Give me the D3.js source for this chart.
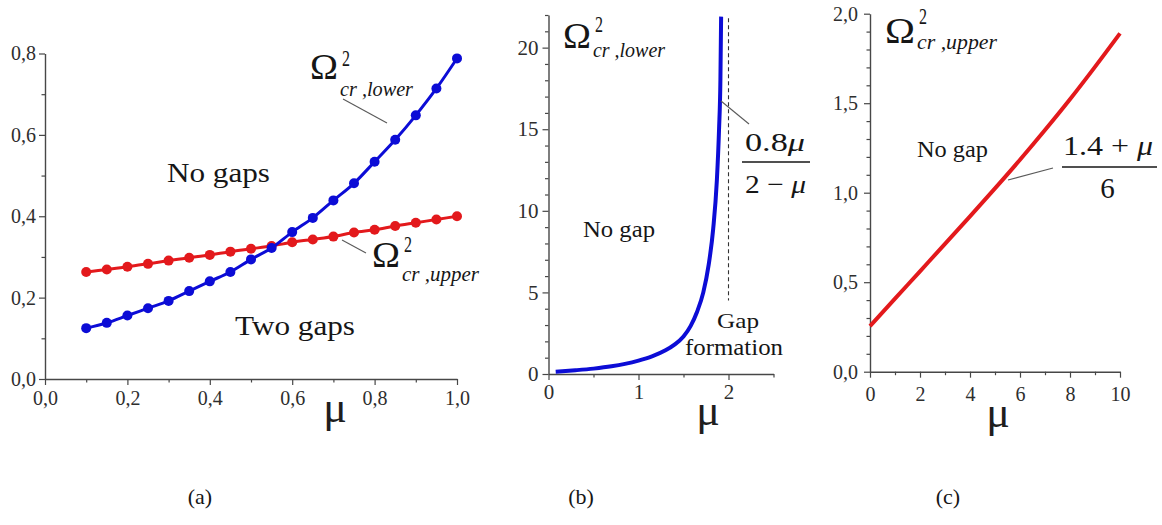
<!DOCTYPE html>
<html>
<head>
<meta charset="utf-8">
<script src="https://cdn.jsdelivr.net/npm/d3@7"></script>
<style>
  body { margin: 0; background: #fff; }
  svg { display: block; }
  text { font-family: "Liberation Serif", "Times New Roman", serif; }
</style>
</head>
<body>
<svg id="chart" width="1162" height="525"></svg>
<script>
// ---- (a) critical frequencies, sampled every 0.05 in mu ----
const muA = [0.10, 0.15, 0.20, 0.25, 0.30, 0.35, 0.40, 0.45, 0.50, 0.55,
             0.60, 0.65, 0.70, 0.75, 0.80, 0.85, 0.90, 0.95, 1.00];
const lowerA = [0.125, 0.138, 0.156, 0.174, 0.192, 0.216, 0.240, 0.263, 0.294, 0.322,
                0.361, 0.396, 0.439, 0.481, 0.534, 0.588, 0.648, 0.714, 0.788];
const upperA = [0.263, 0.269, 0.276, 0.283, 0.291, 0.298, 0.305, 0.313, 0.320, 0.327,
                0.336, 0.343, 0.350, 0.360, 0.367, 0.376, 0.384, 0.392, 0.400];

// ---- (b) lower critical frequency up to the asymptote at mu = 2 ----
const muB = [0.08, 0.30, 0.50, 0.70, 0.85, 1.00, 1.15, 1.30, 1.40, 1.50,
             1.58, 1.65, 1.72, 1.78, 1.83, 1.87, 1.895, 1.91, 1.918];
const lowerB = [0.14, 0.23, 0.33, 0.47, 0.62, 0.82, 1.08, 1.45, 1.80, 2.30,
                2.95, 3.80, 5.00, 6.70, 8.90, 11.8, 15.0, 18.0, 21.9];
const asymptoteB = 2;

// ---- (c) upper critical frequency ----
const muC = [0, 1, 2, 3, 4, 5, 6, 7, 8, 9, 10];
const upperC = [0.255, 0.408, 0.561, 0.714, 0.868, 1.024, 1.184, 1.350, 1.522, 1.703, 1.890];

// ---- tick values ----
const xMajorA = [0, 0.2, 0.4, 0.6, 0.8, 1.0];
const xMinorA = [0.1, 0.3, 0.5, 0.7, 0.9];
const yMajorA = [0, 0.2, 0.4, 0.6, 0.8];
const yMinorA = [0.1, 0.3, 0.5, 0.7];
const xMajorB = [0, 1, 2];
const xMinorB = [0.5, 1.5, 2.5];
const yMajorB = [0, 5, 10, 15, 20];
const yMinorB = d3.range(1, 23).filter(v => v % 5 !== 0);
const xMajorC = [0, 2, 4, 6, 8, 10];
const xMinorC = [1, 3, 5, 7, 9];
const yMajorC = [0, 0.5, 1.0, 1.5, 2.0];
const yMinorC = d3.range(1, 20).filter(i => i % 5 !== 0).map(i => i / 10);

const panelCaptions = ["(a)", "(b)", "(c)"];

const BLUE = "#0c0cd6";
const RED = "#e3191c";
const AXIS = "#474747";
const INK = "#161616";

const svg = d3.select("#chart");
const comma1 = d => d3.format(".1f")(d).replace(".", ",");
const intFmt = d3.format("d");

function drawAxes(g, x, y, o) {
  const y0 = y.range()[0], x0 = x.range()[0];
  const style = sel => {
    sel.attr("color", AXIS)
       .attr("font-family", "'Liberation Serif', 'Times New Roman', serif")
       .attr("font-size", o.fontSize);
    sel.selectAll("path.domain").attr("stroke-width", 1.4);
    sel.selectAll(".tick line").attr("stroke-width", 1.2);
    sel.selectAll("text").attr("fill", "#2e2e2e");
  };
  g.append("g").attr("transform", `translate(0,${y0})`)
    .call(d3.axisBottom(x).tickValues(o.xMinor).tickSize(3.5).tickFormat(""))
    .call(s => s.select(".domain").remove()).call(style);
  g.append("g").attr("transform", `translate(${x0},0)`)
    .call(d3.axisLeft(y).tickValues(o.yMinor).tickSize(3.5).tickFormat(""))
    .call(s => s.select(".domain").remove()).call(style);
  g.append("g").attr("transform", `translate(0,${y0})`)
    .call(d3.axisBottom(x).tickValues(o.xMajor).tickSize(6).tickSizeOuter(0)
      .tickPadding(o.xPad).tickFormat(o.fmtX)).call(style);
  g.append("g").attr("transform", `translate(${x0},0)`)
    .call(d3.axisLeft(y).tickValues(o.yMajor).tickSize(6).tickSizeOuter(0)
      .tickPadding(o.yPad).tickFormat(o.fmtY)).call(style);
}

function note(g, o) {
  const t = g.append("text")
    .attr("x", o.x).attr("y", o.y)
    .attr("font-size", o.size)
    .attr("fill", INK);
  if (o.w) t.attr("textLength", o.w).attr("lengthAdjust", "spacingAndGlyphs");
  if (o.italic) t.attr("font-style", "italic");
  if (o.anchor) t.attr("text-anchor", o.anchor);
  t.text(o.text);
  return t;
}

// Omega^2 with an italic subscript
function omegaLabel(g, o) {
  note(g, { x: o.x, y: o.y, size: 36, w: o.ow, text: "Ω" });
  note(g, { x: o.x + o.ow + 4, y: o.y - o.supDy, size: 24, w: 8, text: "2" });
  note(g, { x: o.x + o.ow + 2, y: o.y + o.subDy, size: o.subSize, w: o.sw, italic: true, text: o.sub });
}

function leader(g, x1, y1, x2, y2) {
  g.append("line").attr("x1", x1).attr("y1", y1).attr("x2", x2).attr("y2", y2)
    .attr("stroke", "#5a5a5a").attr("stroke-width", 1.1);
}

function muLabel(g, cx, y) {
  note(g, { x: cx, y: y, size: 44, anchor: "middle", text: "μ" }).attr("fill", "#1e1e1e");
}

// ================= Panel (a) =================
{
  const g = svg.append("g");
  const x = d3.scaleLinear().domain([0, 1]).range([45, 457]);
  const y = d3.scaleLinear().domain([0, 0.8]).range([379, 53.5]);
  drawAxes(g, x, y, {
    xMajor: xMajorA, xMinor: xMinorA, yMajor: yMajorA, yMinor: yMinorA,
    fmtX: comma1, fmtY: comma1, fontSize: 20, xPad: 6, yPad: 3
  });

  const line = d3.line().x(d => x(d[0])).y(d => y(d[1])).curve(d3.curveMonotoneX);
  const up = muA.map((m, i) => [m, upperA[i]]);
  const lo = muA.map((m, i) => [m, lowerA[i]]);

  g.append("path").datum(up).attr("d", line).attr("fill", "none")
    .attr("stroke", RED).attr("stroke-width", 3);
  g.append("g").selectAll("circle").data(up).join("circle")
    .attr("cx", d => x(d[0])).attr("cy", d => y(d[1])).attr("r", 5).attr("fill", RED);

  g.append("path").datum(lo).attr("d", line).attr("fill", "none")
    .attr("stroke", BLUE).attr("stroke-width", 3);
  g.append("g").selectAll("circle").data(lo).join("circle")
    .attr("cx", d => x(d[0])).attr("cy", d => y(d[1])).attr("r", 5).attr("fill", BLUE);

  note(g, { x: 167, y: 182, size: 27, w: 103, text: "No gaps" });
  note(g, { x: 235, y: 335, size: 27, w: 120, text: "Two gaps" });

  omegaLabel(g, { x: 310, y: 79, ow: 28, supDy: 13, sub: "cr ,lower", subDy: 17, subSize: 22, sw: 73 });
  leader(g, 343, 99, 387, 123);
  omegaLabel(g, { x: 372, y: 267, ow: 28, supDy: 15, sub: "cr ,upper", subDy: 14, subSize: 22, sw: 77 });
  leader(g, 342, 240, 366, 253);

  muLabel(g, 335, 422);
}

// ================= Panel (b) =================
{
  const g = svg.append("g");
  const x = d3.scaleLinear().domain([0, 2.5]).range([548.5, 773.5]);
  const y = d3.scaleLinear().domain([0, 22]).range([374, 15]);
  drawAxes(g, x, y, {
    xMajor: xMajorB, xMinor: xMinorB, yMajor: yMajorB, yMinor: yMinorB,
    fmtX: intFmt, fmtY: intFmt, fontSize: 21, xPad: 4, yPad: 4
  });

  // vertical asymptote
  g.append("line")
    .attr("x1", x(asymptoteB)).attr("x2", x(asymptoteB))
    .attr("y1", y(21.8)).attr("y2", y(4.5))
    .attr("stroke", "#333").attr("stroke-width", 1.1).attr("stroke-dasharray", "4,3");

  const line = d3.line().x((d, i) => x(muB[i])).y(d => y(d)).curve(d3.curveMonotoneX);
  g.append("path").datum(lowerB).attr("d", line).attr("fill", "none")
    .attr("stroke", BLUE).attr("stroke-width", 4).attr("stroke-linecap", "butt");

  omegaLabel(g, { x: 563, y: 48, ow: 28, supDy: 16, sub: "cr ,lower", subDy: 9, subSize: 21, sw: 72 });
  note(g, { x: 583, y: 237, size: 23, w: 72, text: "No gap" });
  note(g, { x: 717, y: 328, size: 22, w: 42, text: "Gap" });
  note(g, { x: 685, y: 355, size: 23, w: 98, text: "formation" });

  // 0.8μ / (2 − μ)
  const num = note(g, { x: 745, y: 151, size: 26, w: 60, text: "" });
  num.append("tspan").text("0.8");
  num.append("tspan").attr("font-style", "italic").text("μ");
  g.append("line").attr("x1", 742).attr("x2", 810).attr("y1", 162).attr("y2", 162)
    .attr("stroke", INK).attr("stroke-width", 1.3);
  const den = note(g, { x: 745, y: 193, size: 26, w: 61, text: "" });
  den.append("tspan").text("2 − ");
  den.append("tspan").attr("font-style", "italic").text("μ");
  leader(g, 721, 101, 749, 124);

  muLabel(g, 708, 425);
}

// ================= Panel (c) =================
{
  const g = svg.append("g");
  const x = d3.scaleLinear().domain([0, 10]).range([870, 1120]);
  const y = d3.scaleLinear().domain([0, 2]).range([371.7, 13.7]);
  drawAxes(g, x, y, {
    xMajor: xMajorC, xMinor: xMinorC, yMajor: yMajorC, yMinor: yMinorC,
    fmtX: intFmt, fmtY: comma1, fontSize: 20, xPad: 9, yPad: 6
  });

  const line = d3.line().x((d, i) => x(muC[i])).y(d => y(d)).curve(d3.curveMonotoneX);
  g.append("path").datum(upperC).attr("d", line).attr("fill", "none")
    .attr("stroke", RED).attr("stroke-width", 4);

  omegaLabel(g, { x: 885, y: 43, ow: 30, supDy: 19, sub: "cr ,upper", subDy: 6, subSize: 21, sw: 80 });
  note(g, { x: 917, y: 157, size: 23, w: 71, text: "No gap" });

  // (1.4 + μ) / 6
  const num = note(g, { x: 1063, y: 155, size: 28, w: 90, text: "" });
  num.append("tspan").text("1.4 + ");
  num.append("tspan").attr("font-style", "italic").text("μ");
  g.append("line").attr("x1", 1062).attr("x2", 1157).attr("y1", 167).attr("y2", 167)
    .attr("stroke", INK).attr("stroke-width", 1.3);
  note(g, { x: 1107.5, y: 198, size: 29, anchor: "middle", text: "6" });
  leader(g, 1008, 180, 1053, 168);

  muLabel(g, 998, 427);
}

// ================= panel captions =================
svg.append("g").selectAll("text").data(panelCaptions).join("text")
  .attr("x", (d, i) => [200, 581, 948][i])
  .attr("y", 504)
  .attr("text-anchor", "middle")
  .attr("font-size", 22)
  .attr("fill", INK)
  .text(d => d);
</script>
</body>
</html>
